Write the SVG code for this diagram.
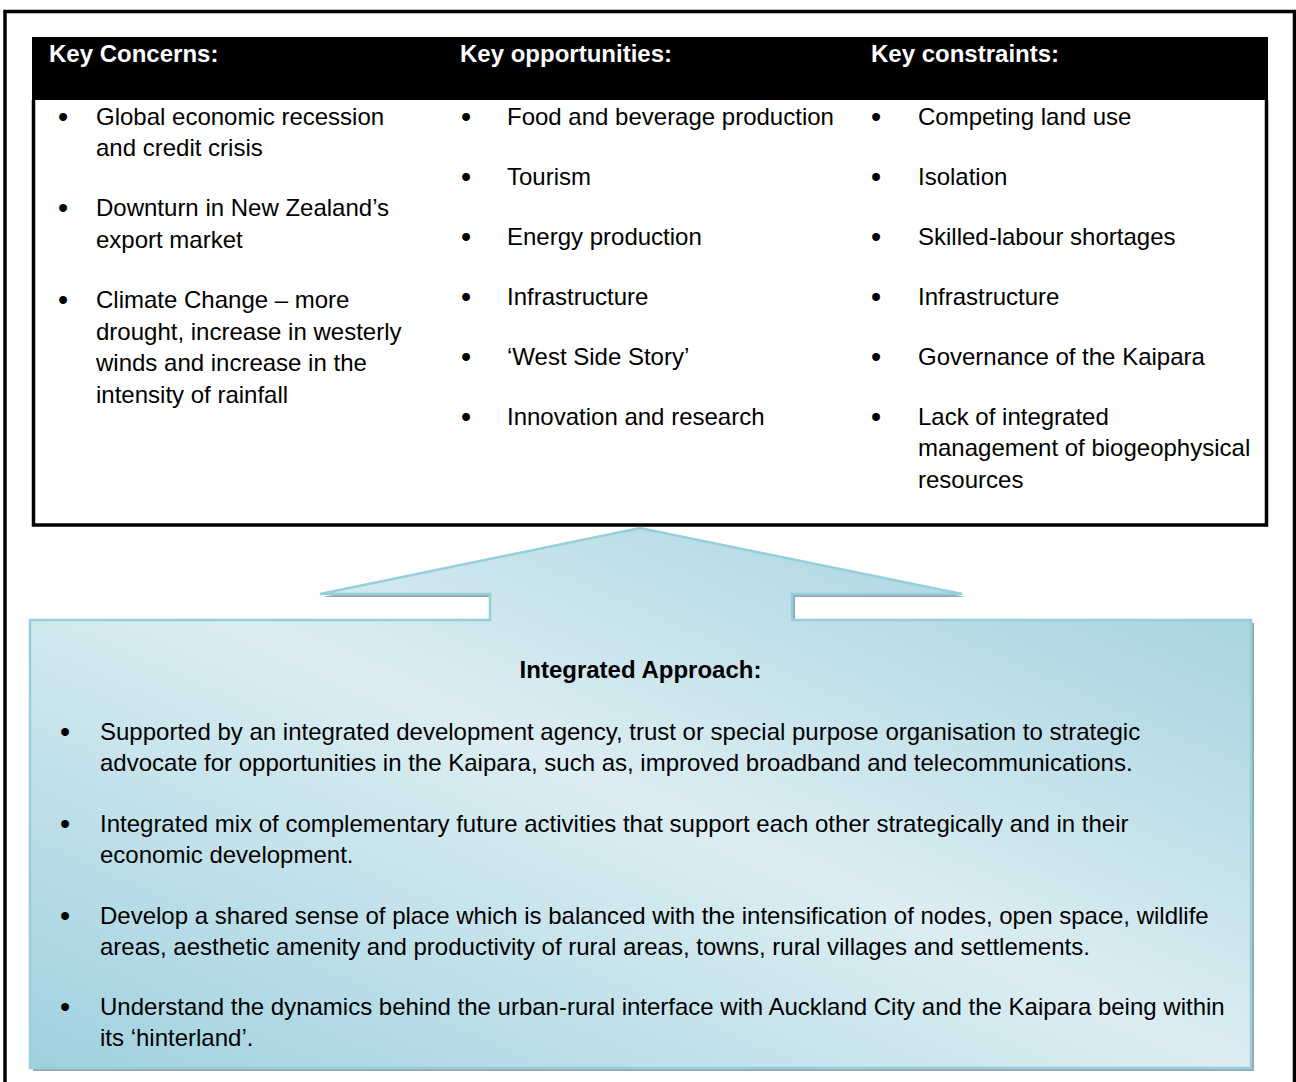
<svg xmlns="http://www.w3.org/2000/svg" width="1296" height="1082" viewBox="0 0 1296 1082">
<style>
text{font-family:"Liberation Sans",Arial,sans-serif;font-size:24px;fill:#000}
.h{font-weight:bold;fill:#fff}
.b{font-weight:bold}
.bul{text-anchor:middle;font-size:29px}
</style>
<defs>
<linearGradient id="g" x1="0" y1="1" x2="1" y2="0">
<stop offset="0" stop-color="#9fd1df"/>
<stop offset="0.5" stop-color="#dcedf3"/>
<stop offset="1" stop-color="#9dcfdd"/>
</linearGradient>
</defs>
<rect width="1296" height="1082" fill="#fff"/>
<path d="M5,1082 V11.5 H1294.5 V1082" fill="none" stroke="#000" stroke-width="3.5"/>
<g id="key-table">
<rect x="32" y="37" width="1236" height="63" fill="#000"/>
<path d="M33.5,100 V525 H1266.5 V100" fill="none" stroke="#000" stroke-width="3.5"/>
<text class="h" x="49" y="62">Key Concerns:</text>
<text class="h" x="460" y="62">Key opportunities:</text>
<text class="h" x="871" y="62">Key constraints:</text>
<g id="concerns">
<text class="bul" x="63" y="127">•</text>
<text x="96" y="125">Global economic recession</text>
<text x="96" y="156">and credit crisis</text>
<text class="bul" x="63" y="218">•</text>
<text x="96" y="216">Downturn in New Zealand’s</text>
<text x="96" y="248">export market</text>
<text class="bul" x="63" y="310">•</text>
<text x="96" y="308">Climate Change – more</text>
<text x="96" y="340">drought, increase in westerly</text>
<text x="96" y="371">winds and increase in the</text>
<text x="96" y="403">intensity of rainfall</text>
</g>
<g id="opportunities">
<text class="bul" x="466" y="127">•</text>
<text x="507" y="125">Food and beverage production</text>
<text class="bul" x="466" y="187">•</text>
<text x="507" y="185">Tourism</text>
<text class="bul" x="466" y="247">•</text>
<text x="507" y="245">Energy production</text>
<text class="bul" x="466" y="307">•</text>
<text x="507" y="305">Infrastructure</text>
<text class="bul" x="466" y="367">•</text>
<text x="507" y="365">‘West Side Story’</text>
<text class="bul" x="466" y="427">•</text>
<text x="507" y="425">Innovation and research</text>
</g>
<g id="constraints">
<text class="bul" x="876" y="127">•</text>
<text x="918" y="125">Competing land use</text>
<text class="bul" x="876" y="187">•</text>
<text x="918" y="185">Isolation</text>
<text class="bul" x="876" y="247">•</text>
<text x="918" y="245">Skilled-labour shortages</text>
<text class="bul" x="876" y="307">•</text>
<text x="918" y="305">Infrastructure</text>
<text class="bul" x="876" y="367">•</text>
<text x="918" y="365">Governance of the Kaipara</text>
<text class="bul" x="876" y="427">•</text>
<text x="918" y="425">Lack of integrated</text>
<text x="918" y="456">management of biogeophysical</text>
<text x="918" y="488">resources</text>
</g>
</g>
<g id="connectors"></g>
<g id="integrated-approach">
<path transform="translate(3,3)" d="M30,620 H490 V594 H320 L640,528 L962,594 H792 V620 H1251 V1068 H30 Z" fill="#9aa8ad"/>
<path d="M30,620 H490 V594 H320 L640,528 L962,594 H792 V620 H1251 V1068 H30 Z" fill="url(#g)" stroke="#95cfdd" stroke-width="2.5"/>
<text class="b" x="640.5" y="678" text-anchor="middle">Integrated Approach:</text>
<text class="bul" x="65" y="742">•</text>
<text x="100" y="740">Supported by an integrated development agency, trust or special purpose organisation to strategic</text>
<text x="100" y="771">advocate for opportunities in the Kaipara, such as, improved broadband and telecommunications.</text>
<text class="bul" x="65" y="834">•</text>
<text x="100" y="832">Integrated mix of complementary future activities that support each other strategically and in their</text>
<text x="100" y="863">economic development.</text>
<text class="bul" x="65" y="926">•</text>
<text x="100" y="924">Develop a shared sense of place which is balanced with the intensification of nodes, open space, wildlife</text>
<text x="100" y="955">areas, aesthetic amenity and productivity of rural areas, towns, rural villages and settlements.</text>
<text class="bul" x="65" y="1017">•</text>
<text x="100" y="1015">Understand the dynamics behind the urban-rural interface with Auckland City and the Kaipara being within</text>
<text x="100" y="1046">its ‘hinterland’.</text>
</g>
</svg>
